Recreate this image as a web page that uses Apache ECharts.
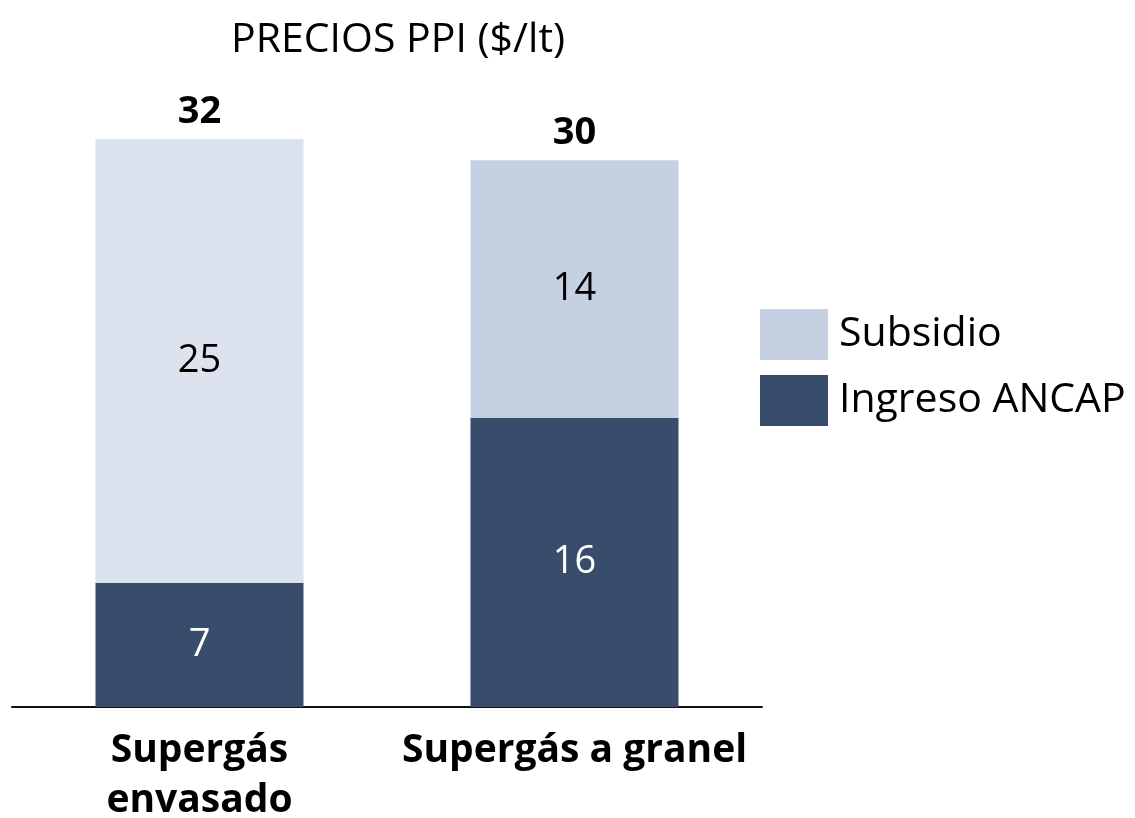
<!DOCTYPE html>
<html>
<head>
<meta charset="utf-8">
<script src="https://cdn.jsdelivr.net/npm/echarts@6/dist/echarts.min.js"></script>
<style>
  html, body { margin: 0; padding: 0; background: #fff; }
  #chart { width: 1135px; height: 818px; }
</style>
</head>
<body>
<div id="chart"></div>
<script>
const categories = ["Supergás\nenvasado", "Supergás a granel"];
const ingresoAncap = [7, 16.3];
const subsidio = [25, 14.5];
const subsidioColors = ["#dce3ee", "#c5d0e2"];

const darkColor = "#384d6c";
const font = "Open Sans";

const myEcharts = echarts.init(document.getElementById("chart"));

const option = {
  backgroundColor: "#fff",
  animation: false,
  title: {
    text: "PRECIOS PPI ($/lt)",
    left: 231,
    top: 20,
    padding: 0,
    textStyle: {
      fontFamily: font,
      fontWeight: "normal",
      fontSize: 41,
      color: "#000"
    }
  },
  legend: {
    data: ["Subsidio", "Ingreso ANCAP"],
    orient: "vertical",
    left: 760,
    top: 309,
    padding: 0,
    itemWidth: 68,
    itemHeight: 51,
    itemGap: 15,
    icon: "rect",
    textStyle: {
      fontFamily: font,
      fontSize: 41,
      color: "#000",
      padding: [4, 0, 0, 6]
    }
  },
  grid: {
    left: 12,
    right: 373,
    top: 68,
    bottom: 111,
    outerBoundsMode: "none"
  },
  xAxis: {
    type: "category",
    data: categories,
    axisTick: { show: false },
    axisLine: { lineStyle: { color: "#111", width: 2 } },
    axisLabel: {
      interval: 0,
      fontFamily: font,
      fontWeight: "bold",
      fontSize: 39,
      lineHeight: 50,
      color: "#000",
      margin: 19
    }
  },
  yAxis: {
    type: "value",
    min: 0,
    max: 36,
    show: false,
    splitLine: { show: false }
  },
  series: [
    {
      name: "Ingreso ANCAP",
      type: "bar",
      stack: "total",
      barWidth: 208,
      data: ingresoAncap,
      itemStyle: { color: darkColor },
      label: {
        show: true,
        position: "inside",
        fontFamily: font,
        fontSize: 38,
        color: "#fff",
        formatter: (p) => Math.floor(p.value)
      }
    },
    {
      name: "Subsidio",
      type: "bar",
      stack: "total",
      barWidth: 208,
      data: subsidio.map((v, i) => ({
        value: v,
        itemStyle: { color: subsidioColors[i] }
      })),
      itemStyle: { color: subsidioColors[1] },
      label: {
        show: true,
        position: "inside",
        fontFamily: font,
        fontSize: 38,
        color: "#000",
        formatter: (p) => Math.floor(p.value)
      }
    },
    {
      name: "Total",
      type: "bar",
      stack: "total",
      barWidth: 208,
      data: categories.map(() => 0),
      itemStyle: { color: "transparent" },
      label: {
        show: true,
        position: "top",
        distance: 8,
        fontFamily: font,
        fontWeight: "bold",
        fontSize: 38,
        color: "#000",
        formatter: (p) => Math.floor(ingresoAncap[p.dataIndex] + subsidio[p.dataIndex])
      }
    }
  ]
};

myEcharts.setOption(option);
</script>
</body>
</html>
